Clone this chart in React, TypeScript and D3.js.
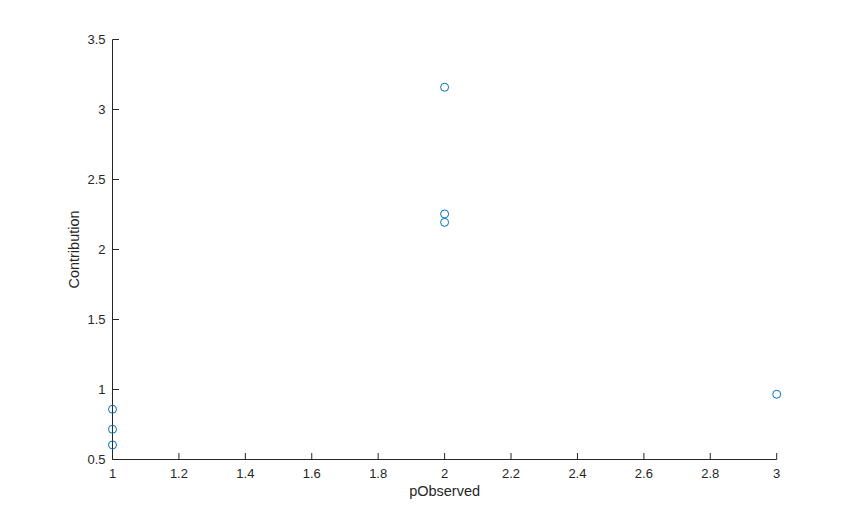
import React from "react";
import * as d3 from "d3";

const xValues = [1, 1, 1, 2, 2, 2, 3];
const yValues = [0.859, 0.716, 0.604, 3.159, 2.254, 2.194, 0.966];
const xTicks = [1, 1.2, 1.4, 1.6, 1.8, 2, 2.2, 2.4, 2.6, 2.8, 3];
const yTicks = [0.5, 1, 1.5, 2, 2.5, 3, 3.5];
const xLabel = "pObserved";
const yLabel = "Contribution";

const W = 859;
const H = 517;
const left = 112.5;
const right = 776.7;
const top = 39.5;
const bottom = 459.5;
const axisColor = "#262626";
const font = "'Liberation Sans', Helvetica, Arial, sans-serif";

export default function App() {
  const x = d3.scaleLinear().domain([1, 3]).range([left, right]);
  const y = d3.scaleLinear().domain([0.5, 3.5]).range([bottom, top]);
  const tl = 6.5;
  const fmt = (v: number) => String(+v.toFixed(2));
  return (
    <svg width={W} height={H} style={{ position: "absolute", left: 0, top: 0, background: "#fff" }}>
      <g fontFamily={font} fill={axisColor}>
        <line x1={left} x2={right} y1={bottom} y2={bottom} stroke={axisColor} strokeWidth={1} />
        <line x1={left} x2={left} y1={top} y2={bottom} stroke={axisColor} strokeWidth={1} />
        {xTicks.map((t) => (
          <g key={"x" + t}>
            <line x1={x(t)} x2={x(t)} y1={bottom} y2={bottom - tl} stroke={axisColor} />
            <text x={x(t)} y={bottom + 18.5} fontSize={13} textAnchor="middle">
              {fmt(t)}
            </text>
          </g>
        ))}
        {yTicks.map((t) => (
          <g key={"y" + t}>
            <line x1={left} x2={left + tl} y1={y(t)} y2={y(t)} stroke={axisColor} />
            <text x={left - 7} y={y(t) + 4.5} fontSize={13} textAnchor="end">
              {fmt(t)}
            </text>
          </g>
        ))}
        <text x={(left + right) / 2} y={496} fontSize={14.5} textAnchor="middle">
          {xLabel}
        </text>
        <text
          transform={`translate(79, ${(top + bottom) / 2}) rotate(-90)`}
          fontSize={14.5}
          textAnchor="middle"
        >
          {yLabel}
        </text>
      </g>
      <g>
        {xValues.map((xv, i) => (
          <circle
            key={i}
            cx={x(xv)}
            cy={y(yValues[i])}
            r={4}
            fill="none"
            stroke="#0072BD"
            strokeWidth={1}
          />
        ))}
      </g>
    </svg>
  );
}
